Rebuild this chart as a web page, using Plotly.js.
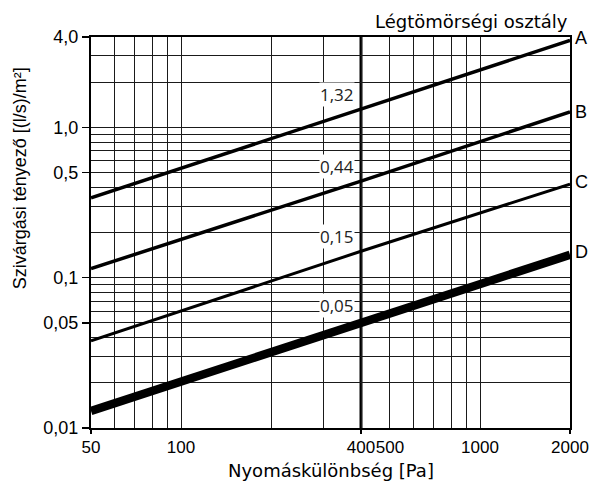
<!DOCTYPE html>
<html><head><meta charset="utf-8">
<script src="https://cdn.plot.ly/plotly-3.0.1.min.js"></script>
<style>html,body{margin:0;padding:0;background:#fff}#chart{width:595px;height:483px}</style>
</head><body><div id="chart"></div>
<script>
// Data
const pressure = [50, 400, 2000];
const classA = [0.34, 1.32, 3.8];
const classB = [0.115, 0.44, 1.27];
const classC = [0.038, 0.15, 0.42];
const classD = [0.013, 0.05, 0.142];
const classNames = ['A', 'B', 'C', 'D'];
const refLabels = ['1,32', '0,44', '0,15', '0,05'];
const xTickVals = [50, 100, 400, 500, 1000, 2000];
const xTickText = ['50', '100', '400', '500', '1000', '2000'];
const xMinorVals = [60, 70, 80, 90, 200, 300, 600, 700, 800, 900];
const xMarkVals = [50, 400, 2000];
const yTickVals = [0.01, 0.05, 0.1, 0.5, 1, 4];
const yTickText = ['0,01', '0,05', '0,1', '0,5', '1,0', '4,0'];
const yMinorVals = [0.02, 0.03, 0.04, 0.06, 0.07, 0.08, 0.09, 0.2, 0.3, 0.4, 0.6, 0.7, 0.8, 0.9, 2, 3];

const series = [classA, classB, classC, classD];
const widths = [3.5, 3.5, 3, 8.5];
const letterShift = [2, 0, 2, 3];
const labelShift = [2, 2, 2, 5];

const traces = series.map((s, i) => ({
  x: pressure, y: s, type: 'scatter', mode: 'lines',
  line: {color: '#000', width: widths[i]},
  xaxis: i === 3 ? 'x2' : 'x', yaxis: 'y',
  hoverinfo: 'skip', showlegend: false
}));

const xr = [Math.log10(50), Math.log10(2000)];
const yr = [-2, Math.log10(4)];
const tickFont = {family: 'Liberation Sans', size: 18, color: '#000'};
const xTickFont = {family: 'Liberation Sans', size: 17, color: '#000'};

const annotations = [];
series.forEach((s, i) => {
  annotations.push({
    x: Math.log10(pressure[2]), y: Math.log10(s[2]), xref: 'x', yref: 'y',
    text: classNames[i], showarrow: false, xanchor: 'left', yanchor: 'middle',
    xshift: 3, yshift: letterShift[i], font: tickFont
  });
  annotations.push({
    x: Math.log10(pressure[1]), y: Math.log10(s[1]), xref: 'x', yref: 'y',
    text: refLabels[i], showarrow: false, xanchor: 'right', yanchor: 'bottom',
    xshift: -6, yshift: labelShift[i], bgcolor: '#fff', borderpad: 0,
    font: {family: 'Open Sans', size: 17, color: '#222'}
  });
});
annotations.push({
  xref: 'paper', yref: 'paper', x: 1, y: 1.04, xanchor: 'right', yanchor: 'middle',
  text: 'Légtömörségi osztály', showarrow: false,
  font: {family: 'DejaVu Sans', size: 18, color: '#000'}
});
annotations.push({
  xref: 'paper', yref: 'paper', x: 0.5, y: -0.108, xanchor: 'center', yanchor: 'middle',
  text: 'Nyomáskülönbség [Pa]', showarrow: false,
  font: {family: 'DejaVu Sans', size: 18, color: '#000'}
});
annotations.push({
  xref: 'paper', yref: 'paper', x: -0.148, y: 0.639, xanchor: 'center', yanchor: 'middle',
  text: 'Szivárgási tényező [(l/s)/m²]', showarrow: false, textangle: -90,
  font: {family: 'Liberation Sans', size: 18, color: '#000'}
});

const layout = {
  width: 595, height: 483,
  margin: {l: 91, r: 25, t: 37, b: 55, pad: 0},
  paper_bgcolor: '#fff', plot_bgcolor: '#fff',
  showlegend: false,
  xaxis: {
    type: 'log', range: xr, tickvals: xTickVals, ticktext: xTickText,
    ticks: '', tickangle: 0, showgrid: true, gridcolor: '#1a1a1a', gridwidth: 1,
    minor: {tickvals: xMinorVals, showgrid: true, gridcolor: '#1a1a1a', gridwidth: 1, ticks: ''},
    showline: true, mirror: true, linecolor: '#000', linewidth: 2,
    zeroline: false, tickfont: xTickFont, ticklabelstandoff: 3, fixedrange: true
  },
  xaxis2: {
    type: 'log', range: xr, overlaying: 'x', anchor: 'y', side: 'bottom',
    tickvals: xMarkVals, ticks: 'outside', ticklen: 5, tickwidth: 2, tickcolor: '#000',
    showticklabels: false, showgrid: false, showline: false, zeroline: false, fixedrange: true
  },
  yaxis: {
    type: 'log', range: yr, tickvals: yTickVals, ticktext: yTickText,
    ticks: 'outside', ticklen: 7, tickwidth: 1.5, tickcolor: '#000',
    showgrid: true, gridcolor: '#1a1a1a', gridwidth: 1,
    minor: {tickvals: yMinorVals, showgrid: true, gridcolor: '#1a1a1a', gridwidth: 1, ticks: ''},
    showline: true, mirror: true, linecolor: '#000', linewidth: 2,
    zeroline: false, tickfont: tickFont, fixedrange: true
  },
  shapes: [{
    type: 'line', xref: 'x', yref: 'paper', x0: 400, x1: 400, y0: 0, y1: 1,
    line: {color: '#000', width: 3}, layer: 'below'
  }],
  annotations: annotations
};

Plotly.newPlot('chart', traces, layout, {displayModeBar: false, staticPlot: true});
</script>
</body></html>
